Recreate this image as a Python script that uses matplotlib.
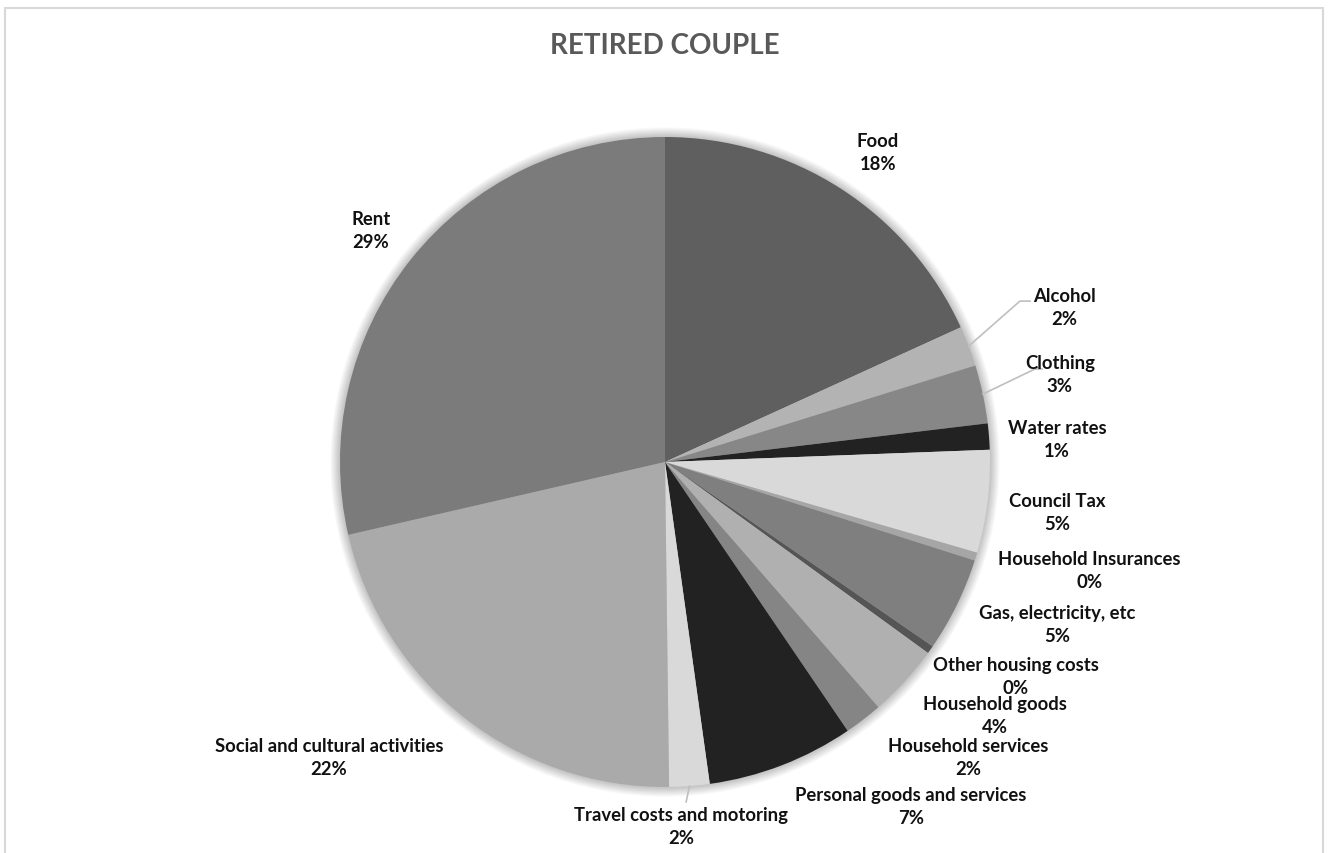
import numpy as np
import matplotlib.pyplot as plt
from matplotlib.patches import Circle, Rectangle

# Weekly budget shares, retired couple (percent)
categories = ['Food', 'Alcohol', 'Clothing', 'Water rates', 'Council Tax',
              'Household Insurances', 'Gas, electricity, etc', 'Other housing costs',
              'Household goods', 'Household services', 'Personal goods and services',
              'Travel costs and motoring', 'Social and cultural activities', 'Rent']
shares = [18.2, 2.0, 2.9, 1.3, 5.1, 0.4, 4.7, 0.4, 3.6, 1.9, 7.3, 2.0, 21.6, 28.6]

colors = ['#5f5f5f', '#b3b3b3', '#878787', '#222222', '#d9d9d9', '#a6a6a6', '#7f7f7f',
          '#555555', '#b0b0b0', '#858585', '#222222', '#d9d9d9', '#aaaaaa', '#7b7b7b']

# label centres (pie radius = 1)
label_xy = [(0.655, 0.954), (1.228, 0.477), (1.215, 0.271), (1.206, 0.071),
            (1.206, -0.154), (1.305, -0.332), (1.206, -0.498), (1.08, -0.658),
            (1.015, -0.778), (0.932, -0.908), (0.757, -1.058), (0.049, -1.12),
            (-1.034, -0.908), (-0.905, 0.714)]

# leader lines: index -> points after the wedge edge
leaders = {1: [(1.092, 0.495), (1.123, 0.495)],
           2: [(1.138, 0.286), (1.16, 0.286)],
           11: [(0.065, -1.046)]}

plt.rcParams['font.family'] = ['Lato', 'DejaVu Sans']

fig = plt.figure(figsize=(13.3, 8.54), dpi=100)
ax = fig.add_axes([0, 0, 1, 1])

# soft shadow around the pie
for i in range(12):
    ax.add_patch(Circle((0, 0), 1.0 + 0.0025 * (i + 1), color='#000000',
                        alpha=0.018, lw=0, zorder=0))

wedges, _ = ax.pie(shares, colors=colors, startangle=90, counterclock=False,
                   radius=1.0, wedgeprops=dict(linewidth=0), frame=True)
ax.set_xlim(-665 / 325, 665 / 325)
ax.set_ylim(-391 / 325, 463 / 325)
ax.set_aspect('auto')
ax.axis('off')

total = sum(shares)
for i, (name, val) in enumerate(zip(categories, shares)):
    x, y = label_xy[i]
    ax.text(x, y, f'{name}\n{val / total * 100:.0f}%', ha='center', va='center',
            fontsize=13.3, fontweight='bold', color='#111111', linespacing=1.42)

for i, pts in leaders.items():
    w = wedges[i]
    mid = np.deg2rad((w.theta1 + w.theta2) / 2)
    xs = [np.cos(mid)] + [p[0] for p in pts]
    ys = [np.sin(mid)] + [p[1] for p in pts]
    ax.plot(xs, ys, color='#bfbfbf', lw=1.2)

fig.text(0.5, 1 - 46 / 854, 'RETIRED COUPLE', ha='center', va='center',
         fontsize=20, fontweight='bold', color='#595959')

fig.patches.append(Rectangle((5 / 1330, -0.05), 1318 / 1330, 1.05 - 9 / 854,
                             transform=fig.transFigure, fill=False,
                             edgecolor='#d9d9d9', lw=1.5))

fig.savefig('out.png', dpi=100)
